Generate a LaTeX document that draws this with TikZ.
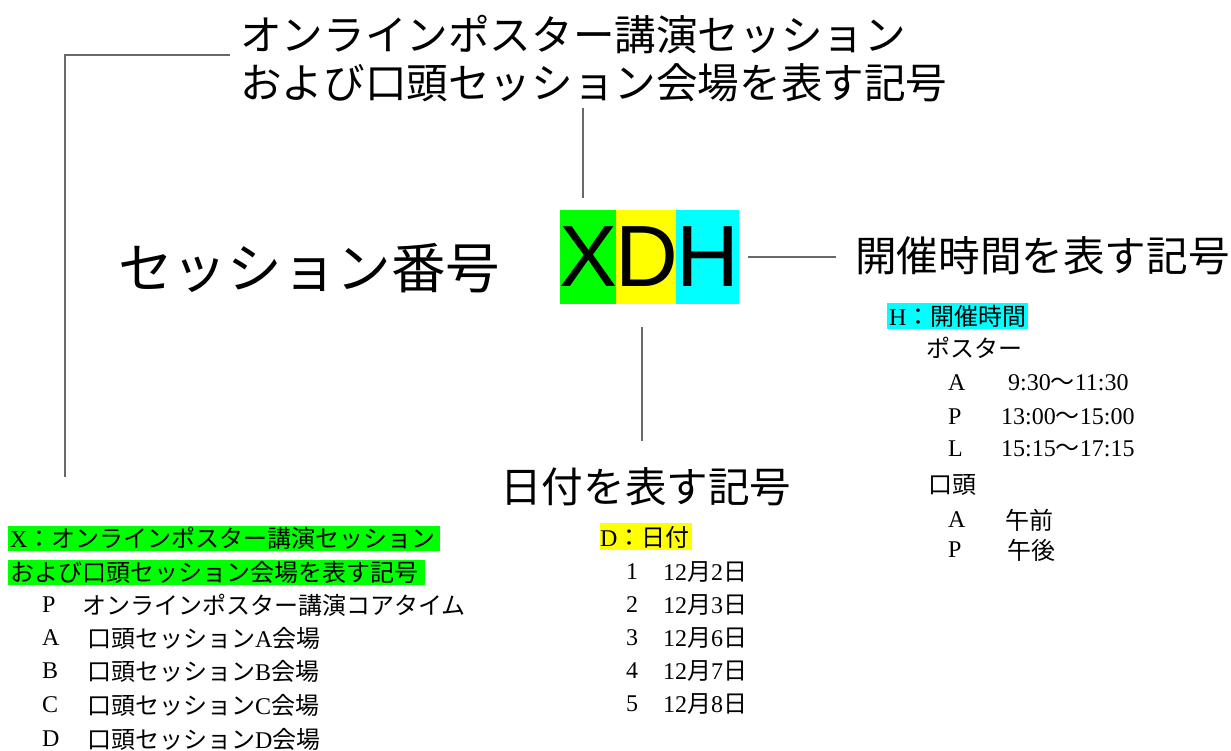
\documentclass[tikz,border=0pt]{standalone}
\usepackage{fontspec}
\setmainfont{Liberation Serif}
\newfontfamily\jp{Noto Sans CJK JP}
\newfontfamily\arialfont{Liberation Sans}
\definecolor{linegray}{RGB}{105,105,105}
\definecolor{hlgreen}{RGB}{0,255,0}
\definecolor{hlyellow}{RGB}{255,255,0}
\definecolor{hlcyan}{RGB}{0,255,255}
\begin{document}
\begin{tikzpicture}[x=1pt,y=-1pt,
  conn/.style={draw=linegray,line width=2pt},
  big/.style={inner sep=0pt,anchor=west,font=\jp\fontsize{41.6}{48}\selectfont},
  small/.style={inner sep=0pt,anchor=west,font=\fontsize{24}{28}\selectfont},
  letterbox/.style={inner sep=0pt,minimum height=94pt,font=\arialfont\fontsize{87}{90}\selectfont}
]
\useasboundingbox[fill=white] (0,0) rectangle (1231,751);

% big labels
\node[big] (title1) at (240,35) {オンラインポスター講演セッション};
\node[big] (title2) at (240,83) {および口頭セッション会場を表す記号};
\node[inner sep=0pt,anchor=west,font=\jp\fontsize{54.6}{60}\selectfont] (sesnum) at (118,268) {セッション番号};
\node[big] (timelbl) at (855,256) {開催時間を表す記号};
\node[big] (datelbl) at (500,487) {日付を表す記号};

% XDH
\node[letterbox,fill=hlgreen,minimum width=56pt] (xdhX) at (589,257) {X};
\node[letterbox,fill=hlyellow,minimum width=60pt] (xdhD) at (647,257) {D};
\node[letterbox,fill=hlcyan,minimum width=61pt] (xdhH) at (707.5,257) {H};

% connectors
\coordinate (c1) at (230,55);
\coordinate (c2) at (65,477);
\draw[conn] (c1) -| (c2);
\coordinate (c3) at (583,108);
\coordinate (c3b) at (583,198);
\draw[conn] (c3) -- (c3b);
\draw[conn,shorten <=9pt,shorten >=19pt] (xdhH.east) -- (xdhH.east -| timelbl.west);
\coordinate (c4) at (642,327);
\coordinate (c5) at (642,441);
\draw[conn] (c4) -- (c5);

% highlights
\fill[hlgreen] (8,526) rectangle (440,551);
\fill[hlgreen] (8,560) rectangle (425,585);
\fill[hlyellow] (600,523) rectangle (692,550);
\fill[hlcyan] (887,303) rectangle (1028,329);

% X list
\node[small] (x1) at (10,538) {X{\jp ：オンラインポスター講演セッション}};
\node[small] (x2) at (10,572) {\jp および口頭セッション会場を表す記号};
\node[small] (xp) at (42,605) {P};
\node[small] (xpt) at (82,605) {\jp オンラインポスター講演コアタイム};
\node[small] (xa) at (42,638) {A};
\node[small] (xat) at (87,638) {{\jp 口頭セッション}A{\jp 会場}};
\node[small] (xb) at (42,671) {B};
\node[small] (xbt) at (87,671) {{\jp 口頭セッション}B{\jp 会場}};
\node[small] (xc) at (42,705) {C};
\node[small] (xct) at (87,705) {{\jp 口頭セッション}C{\jp 会場}};
\node[small] (xd) at (42,739) {D};
\node[small] (xdt) at (87,739) {{\jp 口頭セッション}D{\jp 会場}};

% D list
\node[small] (d0) at (600,537) {D{\jp ：日付}};
\node[small] (d1) at (626,572) {1};
\node[small] (d1t) at (663,572) {12{\jp 月}2{\jp 日}};
\node[small] (d2) at (626,605) {2};
\node[small] (d2t) at (663,605) {12{\jp 月}3{\jp 日}};
\node[small] (d3) at (626,638) {3};
\node[small] (d3t) at (663,638) {12{\jp 月}6{\jp 日}};
\node[small] (d4) at (626,671) {4};
\node[small] (d4t) at (663,671) {12{\jp 月}7{\jp 日}};
\node[small] (d5) at (626,704) {5};
\node[small] (d5t) at (663,704) {12{\jp 月}8{\jp 日}};

% H list
\node[small] (h0) at (889,316) {H{\jp ：開催時間}};
\node[small] (hp) at (926,348) {\jp ポスター};
\node[small] (ha) at (948,383) {A};
\node[small] (hat) at (1008,383) {9:30{\jp ～}11:30};
\node[small] (hpp) at (948,417) {P};
\node[small] (hpt) at (1001,417) {13:00{\jp ～}15:00};
\node[small] (hl) at (948,449) {L};
\node[small] (hlt) at (1001,449) {15:15{\jp ～}17:15};
\node[small] (ho) at (928,485) {\jp 口頭};
\node[small] (hoa) at (948,520) {A};
\node[small] (hoat) at (1005,520) {\jp 午前};
\node[small] (hop) at (948,550) {P};
\node[small] (hopt) at (1007,550) {\jp 午後};
\end{tikzpicture}
\end{document}
